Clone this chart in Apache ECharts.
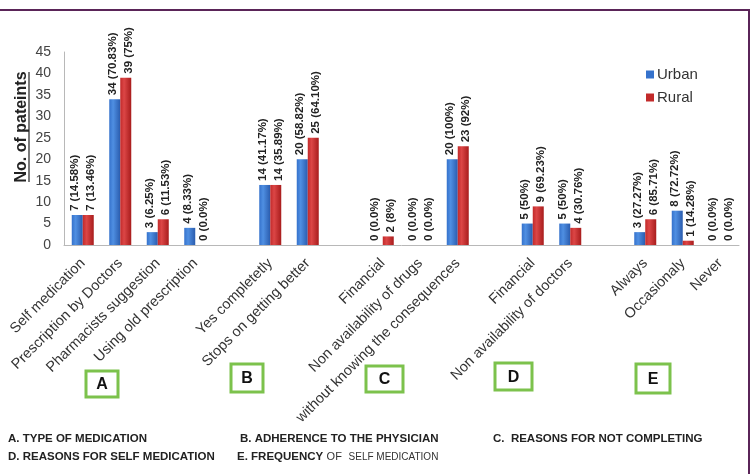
<!DOCTYPE html>
<html>
<head>
<meta charset="utf-8">
<script src="https://cdn.jsdelivr.net/npm/echarts@6/dist/echarts.min.js"></script>
<style>
  html, body { margin: 0; padding: 0; background: #fff; }
  #chart { width: 753px; height: 474px; }
</style>
</head>
<body>
<div id="chart"></div>
<script>
// empty entries are the gaps between groups A..E
const categories = [
  'Self medication', 'Prescription by Doctors', 'Pharmacists suggestion', 'Using old prescription', '',
  'Yes completetly', 'Stops on getting better', '',
  'Financial', 'Non availability of drugs', 'without knowing the consequences', '',
  'Financial', 'Non availability of doctors', '',
  'Always', 'Occasionaly', 'Never'
];
const urban = [7, 34, 3, 4, null, 14, 20, null, 0, 0, 20, null, 5, 5, null, 3, 8, 0];
const rural = [7, 39, 6, 0, null, 14, 25, null, 2, 0, 23, null, 9, 4, null, 6, 1, 0];
const urbanLabels = [
  '7 (14.58%)', '34 (70.83%)', '3 (6.25%)', '4 (8.33%)', '',
  '14 (41.17%)', '20 (58.82%)', '',
  '0 (0.0%)', '0 (0.0%)', '20 (100%)', '',
  '5 (50%)', '5 (50%)', '',
  '3 (27.27%)', '8 (72.72%)', '0 (0.0%)'
];
const ruralLabels = [
  '7 (13.46%)', '39 (75%)', '6 (11.53%)', '0 (0.0%)', '',
  '14 (35.89%)', '25 (64.10%)', '',
  '2 (8%)', '0 (0.0%)', '23 (92%)', '',
  '9 (69.23%)', '4 (30.76%)', '',
  '6 (85.71%)', '1 (14.28%)', '0 (0.0%)'
];
const yTicks = [0, 5, 10, 15, 20, 25, 30, 35, 40, 45];
const groupBoxes = [
  { letter: 'A', x: 86, y: 371, w: 32, h: 26 },
  { letter: 'B', x: 231, y: 364, w: 32, h: 28 },
  { letter: 'C', x: 366, y: 366, w: 37, h: 26 },
  { letter: 'D', x: 495, y: 363, w: 37, h: 27 },
  { letter: 'E', x: 636, y: 364, w: 34, h: 29 }
];

const font = 'Liberation Sans, Arial, sans-serif';
const chart = echarts.init(document.getElementById('chart'));

const blueFill = new echarts.graphic.LinearGradient(0, 0, 1, 0, [
  { offset: 0, color: '#3572cc' },
  { offset: 0.35, color: '#4f8fe2' },
  { offset: 1, color: '#2a5cae' }
]);
const redFill = new echarts.graphic.LinearGradient(0, 0, 1, 0, [
  { offset: 0, color: '#c22a2a' },
  { offset: 0.35, color: '#dc4646' },
  { offset: 1, color: '#a81c1c' }
]);

// label offset is in the rotated frame: second value moves the text sideways
function barLabel(labels, dx) {
  return {
    show: true,
    position: 'top',
    rotate: 90,
    align: 'left',
    verticalAlign: 'middle',
    distance: 4,
    offset: [0, dx],
    fontFamily: font,
    fontSize: 11.5,
    fontWeight: 'bold',
    color: '#222',
    formatter: p => labels[p.dataIndex]
  };
}

const boxGraphics = [];
groupBoxes.forEach(b => {
  boxGraphics.push({
    type: 'rect',
    shape: { x: b.x, y: b.y, width: b.w, height: b.h },
    style: { fill: 'none', stroke: '#7cc24c', lineWidth: 3 }
  });
  boxGraphics.push({
    type: 'text',
    x: b.x + b.w / 2,
    y: b.y + b.h / 2 + 1,
    style: {
      text: b.letter, align: 'center', verticalAlign: 'middle',
      font: 'bold 16px ' + font, fill: '#111'
    }
  });
});

function footText(x, y, text) {
  return {
    type: 'text', x: x, y: y,
    style: { text: text, verticalAlign: 'middle', font: 'bold 11.5px ' + font, fill: '#222' }
  };
}

chart.setOption({
  animation: false,
  backgroundColor: '#fff',
  grid: { left: 64, right: 14, top: 52, bottom: 229 },
  legend: {
    orient: 'vertical',
    left: 641,
    top: 62,
    itemWidth: 8,
    itemHeight: 8,
    itemGap: 8,
    icon: 'rect',
    textStyle: { fontFamily: font, fontSize: 15, color: '#333', padding: [0, 0, 0, -2] },
    data: [
      { name: 'Urban', itemStyle: { color: '#3572cc' } },
      { name: 'Rural', itemStyle: { color: '#c22a2a' } }
    ]
  },
  xAxis: {
    type: 'category',
    data: categories,
    axisLine: { lineStyle: { color: '#b8b8b8' } },
    axisTick: { show: false },
    axisLabel: {
      interval: 0, rotate: 45, margin: 16,
      fontFamily: font, fontSize: 14.5, color: '#333'
    }
  },
  yAxis: {
    type: 'value',
    min: 0, max: 45, interval: 5,
    axisLine: { show: true, lineStyle: { color: '#b8b8b8' } },
    axisTick: { show: false },
    splitLine: { show: false },
    axisLabel: {
      margin: 13, fontFamily: font, fontSize: 14, color: '#444',
      formatter: v => (yTicks.indexOf(v) >= 0 ? String(v) : '')
    }
  },
  series: [
    {
      name: 'Urban', type: 'bar', data: urban,
      barWidth: 11, barGap: '0%',
      itemStyle: { color: blueFill },
      label: barLabel(urbanLabels, -2)
    },
    {
      name: 'Rural', type: 'bar', data: rural,
      barWidth: 11, barGap: '0%',
      itemStyle: { color: redFill },
      label: barLabel(ruralLabels, 3)
    }
  ],
  graphic: [
    // frame
    { type: 'line', shape: { x1: 0, y1: 10, x2: 750, y2: 10 }, style: { stroke: '#5a2458', lineWidth: 2 } },
    { type: 'line', shape: { x1: 749, y1: 10, x2: 749, y2: 474 }, style: { stroke: '#5a2458', lineWidth: 2 } },
    // y axis title, underlined
    {
      type: 'text', x: 22, y: 127, rotation: Math.PI / 2,
      style: {
        text: 'No. of pateints', align: 'center', verticalAlign: 'middle',
        font: 'bold 16px ' + font, fill: '#222'
      }
    },
    { type: 'line', shape: { x1: 29, y1: 72, x2: 29, y2: 182 }, style: { stroke: '#222', lineWidth: 1.2 } },
    ...boxGraphics,
    footText(8, 439, 'A. TYPE OF MEDICATION'),
    footText(8, 457, 'D. REASONS FOR SELF MEDICATION'),
    footText(240, 439, 'B. ADHERENCE TO THE PHYSICIAN'),
    {
      type: 'text', x: 237, y: 457,
      style: {
        text: '{b|E. FREQUENCY} {o|OF}  {s|SELF MEDICATION}',
        verticalAlign: 'middle',
        rich: {
          b: { font: 'bold 11.5px ' + font, fill: '#222' },
          o: { font: '11px ' + font, fill: '#333' },
          s: { font: '10px ' + font, fill: '#333' }
        }
      }
    },
    footText(493, 439, 'C.  REASONS FOR NOT COMPLETING')
  ]
});
</script>
</body>
</html>
